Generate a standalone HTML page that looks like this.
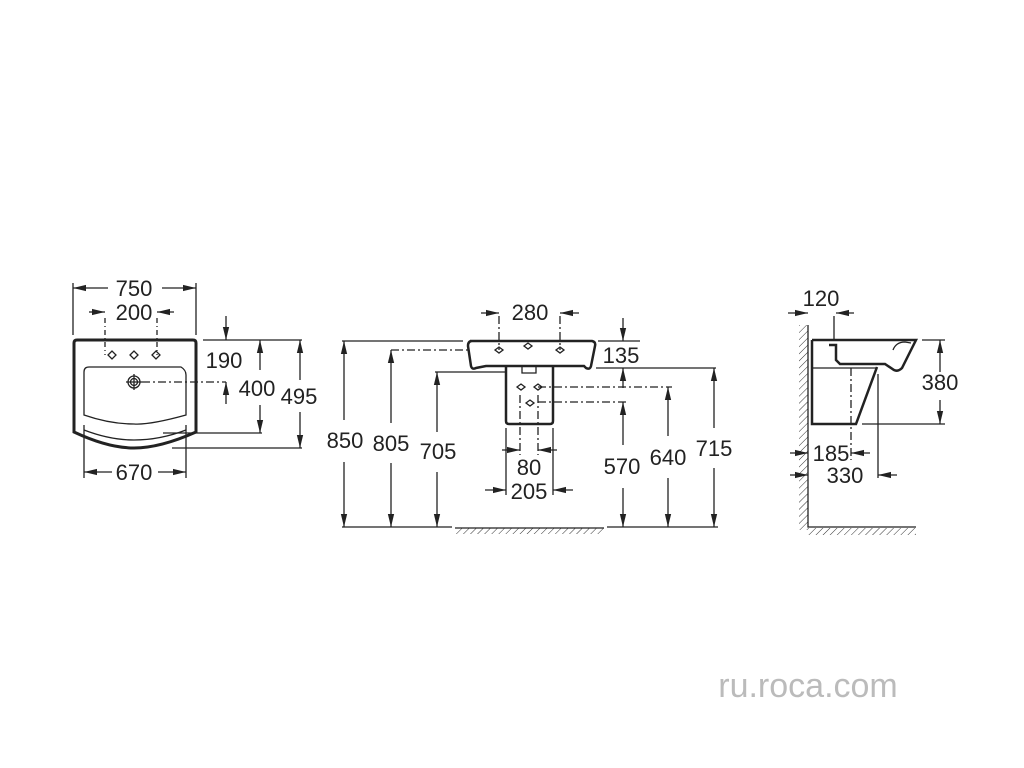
<!DOCTYPE html>
<html><head><style>body{margin:0;background:#fff}svg{display:block}</style></head><body>
<svg width="1024" height="768" viewBox="0 0 1024 768" xmlns="http://www.w3.org/2000/svg" font-family="Liberation Sans, sans-serif">
<defs>
<marker id="a" viewBox="0 0 10 10" refX="10" refY="5" markerWidth="13" markerHeight="9" orient="auto-start-reverse" markerUnits="userSpaceOnUse" preserveAspectRatio="none"><path d="M0,1.5 L10,5 L0,8.5z" fill="#222"/></marker>
<pattern id="h" width="5" height="5" patternUnits="userSpaceOnUse" patternTransform="rotate(45)"><line x1="0" y1="0" x2="0" y2="5" stroke="#333" stroke-width="1"/></pattern>
</defs>
<g stroke="#222" fill="none" stroke-width="1.3">
<!-- LEFT -->
<path d="M74,343 Q74,340 77,340 L193,340 Q196,340 196,343 L196,432 Q160,448 134,448 Q108,448 74,432 Z" stroke-width="3"/>
<path d="M84,372 Q84,367 89,367 L181,367 Q186,370 186,375 L186,415 Q150,425 134,424 Q110,424 84,415 Z"/>
<path d="M84,430 Q110,440 134,440 Q160,440 186,430"/>
<circle cx="134" cy="382" r="6"/><circle cx="134" cy="382" r="3.5"/>
<path d="M126,382 H142 M134,374 V390"/>
<path d="M108,355 l4,-4 4,4 -4,4z M130,355 l4,-4 4,4 -4,4z M152,355 l4,-4 4,4 -4,4z"/>
<path d="M142,382 H226" stroke-dasharray="8,3,2,3"/>
<path d="M73,283 V335 M196,283 V335"/>
<path d="M105,318 V355 M157,318 V355" stroke-dasharray="5,3,1,3"/>
<path d="M108,288 H73" marker-end="url(#a)"/><path d="M162,288 H196" marker-end="url(#a)"/>
<path d="M89,312 H105" marker-end="url(#a)"/><path d="M174,312 H157" marker-end="url(#a)"/>
<path d="M203,340 H302 M163,433 H262 M172,448 H302"/>
<path d="M226,316 V340" marker-end="url(#a)"/>
<path d="M226,404 V382" marker-end="url(#a)"/>
<path d="M260,370 V340" marker-end="url(#a)"/><path d="M260,405 V433" marker-end="url(#a)"/>
<path d="M300,380 V340" marker-end="url(#a)"/><path d="M300,412 V448" marker-end="url(#a)"/>
<path d="M84,425 V478 M186,425 V478"/>
<path d="M112,472 H84" marker-end="url(#a)"/><path d="M158,472 H186" marker-end="url(#a)"/>
<!-- MIDDLE -->
<path d="M470,341 H592 Q596,342 595,346 L591,366 Q590,370 586,368 L584,366 H486 L476,368 Q472,370 471,366 L468,346 Q468,341 472,341Z" stroke-width="2.5"/>
<path d="M506,366 V421 Q506,424 509,424 H550 Q553,424 553,421 V366" stroke-width="2.5"/>
<path d="M522,366 V373 H536 V366"/>
<path d="M495,350 l4,-3 4,3 -4,3z M524,346 l4,-3 4,3 -4,3z M556,350 l4,-3 4,3 -4,3z M517,387 l4,-3 4,3 -4,3z M534,387 l4,-3 4,3 -4,3z M526,403 l4,-3 4,3 -4,3z"/>
<path d="M499,316 V350 M560,316 V350 M391,350 H470 M538,387 H672 M538,402 H627 M520,395 V455 M538,395 V455" stroke-dasharray="8,3,2,3"/>
<path d="M342,341 H463 M598,341 H640 M435,372 H505 M596,368 H716 M506,428 V495 M553,428 V495"/>
<path d="M342,527 H452 M607,527 H718"/>
<rect x="455" y="528" width="149" height="6" fill="url(#h)" stroke="none"/>
<path d="M455,528 H604"/>
<path d="M481,313 H499" marker-end="url(#a)"/><path d="M579,313 H560" marker-end="url(#a)"/>
<path d="M344,420 V341" marker-end="url(#a)"/><path d="M344,462 V527" marker-end="url(#a)"/>
<path d="M391,423 V350" marker-end="url(#a)"/><path d="M391,463 V527" marker-end="url(#a)"/>
<path d="M437,432 V372" marker-end="url(#a)"/><path d="M437,472 V527" marker-end="url(#a)"/>
<path d="M623,318 V341" marker-end="url(#a)"/><path d="M623,388 V368" marker-end="url(#a)"/>
<path d="M623,445 V402" marker-end="url(#a)"/><path d="M623,488 V527" marker-end="url(#a)"/>
<path d="M668,436 V387" marker-end="url(#a)"/><path d="M668,478 V527" marker-end="url(#a)"/>
<path d="M714,428 V368" marker-end="url(#a)"/><path d="M714,468 V527" marker-end="url(#a)"/>
<path d="M502,450 H520" marker-end="url(#a)"/><path d="M557,450 H538" marker-end="url(#a)"/>
<path d="M485,490 H506" marker-end="url(#a)"/><path d="M573,490 H553" marker-end="url(#a)"/>
<!-- RIGHT -->
<rect x="799" y="325" width="9" height="205" fill="url(#h)" stroke="none"/>
<rect x="808" y="528" width="108" height="7" fill="url(#h)" stroke="none"/>
<path d="M808,325 V527 H916"/>
<path d="M812,340 H916 L911,350 L902,368 Q898,372 894,370 L885,364 H840 L836,360 V345 H829" stroke-width="2.5"/>
<path d="M812,340 V424 H856 L877,367" stroke-width="2.5"/>
<path d="M812,368 H877"/>
<path d="M893,350 Q896,342 905,342 L911,343"/>
<path d="M851,368 V460" stroke-dasharray="8,3,2,3"/>
<path d="M834,316 V340 M878,374 V478 M922,340 H945 M862,424 H945"/>
<path d="M788,313 H808" marker-end="url(#a)"/><path d="M854,313 H836" marker-end="url(#a)"/>
<path d="M940,372 V340" marker-end="url(#a)"/><path d="M940,400 V424" marker-end="url(#a)"/>
<path d="M790,453 H808" marker-end="url(#a)"/><path d="M870,453 H851" marker-end="url(#a)"/>
<path d="M790,475 H808" marker-end="url(#a)"/><path d="M897,475 H878" marker-end="url(#a)"/>
</g>
<g font-size="22" fill="#222" text-anchor="middle">
<text x="134" y="296">750</text>
<text x="134" y="320">200</text>
<text x="224" y="368">190</text>
<text x="257" y="396">400</text>
<text x="299" y="404">495</text>
<text x="134" y="480">670</text>
<text x="530" y="320">280</text>
<text x="621" y="363">135</text>
<text x="345" y="448">850</text>
<text x="391" y="451">805</text>
<text x="438" y="459">705</text>
<text x="529" y="475">80</text>
<text x="529" y="499">205</text>
<text x="622" y="474">570</text>
<text x="668" y="465">640</text>
<text x="714" y="456">715</text>
<text x="821" y="306">120</text>
<text x="940" y="390">380</text>
<text x="831" y="461">185</text>
<text x="845" y="483">330</text>
</g>
<text x="808" y="697" font-size="34" fill="#bbb" text-anchor="middle">ru.roca.com</text>
</svg>
</body></html>
